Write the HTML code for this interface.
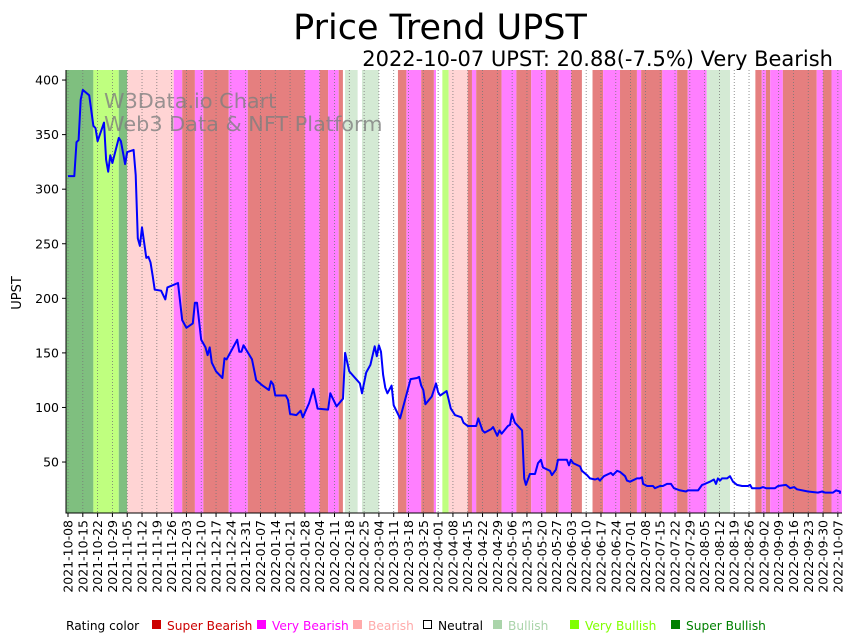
<!DOCTYPE html>
<html><head><meta charset="utf-8"><style>
html,body{margin:0;padding:0;background:#fff;}
svg{display:block;font-family:"DejaVu Sans","Liberation Sans",sans-serif;}
</style></head><body>
<svg id="chart" width="857" height="641" viewBox="0 0 857 641">
<text x="440" y="39" font-size="35" text-anchor="middle" fill="#000">Price Trend UPST</text>
<text x="833" y="66" font-size="21" text-anchor="end" fill="#000">2022-10-07 UPST: 20.88(-7.5%) Very Bearish</text>
<g id="bands"></g>
<g id="grid"></g>
<text x="104" y="108" font-size="20.8" fill="#808080" fill-opacity="0.8">W3Data.io Chart</text>
<text x="104" y="131" font-size="20.8" fill="#808080" fill-opacity="0.8">Web3 Data &amp; NFT Platform</text>
<path id="priceLine" fill="none" stroke="#0000ff" stroke-width="2" stroke-linejoin="round"/>
<line x1="66" y1="70" x2="66" y2="513.5" stroke="#000" stroke-width="1"/>
<line x1="65.5" y1="513" x2="842" y2="513" stroke="#000" stroke-width="1"/>
<g id="yticks"></g>
<g id="xticks"></g>
<text transform="translate(21,293) rotate(-90)" font-size="13" text-anchor="middle">UPST</text>
<g font-size="12.2">
<text x="66" y="630" fill="#000">Rating color</text>
<g><rect x="152" y="620" width="9" height="9" fill="#cc0000"/><text x="167" y="630" fill="#cc0000">Super Bearish</text></g>
<g><rect x="257" y="620" width="9" height="9" fill="#ff00ff"/><text x="272" y="630" fill="#ff00ff">Very Bearish</text></g>
<g><rect x="353" y="620" width="9" height="9" fill="#ffaaaa"/><text x="368" y="630" fill="#ffaaaa">Bearish</text></g>
<g><rect x="423.5" y="620.5" width="8" height="8" fill="#fff" stroke="#000"/><text x="438" y="630" fill="#000">Neutral</text></g>
<g><rect x="493" y="620" width="9" height="9" fill="#aad4aa"/><text x="508" y="630" fill="#aad4aa">Bullish</text></g>
<g><rect x="570" y="620" width="9" height="9" fill="#80ff00"/><text x="585" y="630" fill="#80ff00">Very Bullish</text></g>
<g><rect x="671" y="620" width="9" height="9" fill="#008000"/><text x="686" y="630" fill="#008000">Super Bullish</text></g>
</g>
</svg>
<script>
// days since 2021-10-08
const priceDays = [0,3,4,5,6,7,10,12,13,14,17,18,19,20,21,24,25,27,28,31,32,33,34,35,37,38,39,40,41,44,46,47,52,54,56,59,60,61,63,65,66,67,68,70,73,74,75,80,81,82,83,87,89,92,95,96,97,98,103,104,105,108,110,111,114,116,118,123,124,127,130,131,133,138,139,141,143,145,146,147,148,149,150,151,153,154,157,162,165,166,167,168,169,172,174,175,176,179,180,181,183,186,187,189,193,194,196,197,200,201,203,204,205,208,209,209.9,211.3,214.7,215.7,216.5,218.4,220.8,222.2,223.6,224.6,227.9,228.8,230.7,231.7,235.9,236.9,237.8,238.8,242.1,243,245.4,246.8,249.2,250.6,251.5,253.4,256.7,257.7,259.6,261,263.4,264.3,265.7,269,270.4,271.4,271.9,273.8,276.6,277.5,279.9,281.3,283.2,285.1,286.5,289.4,292.2,293.1,297.9,299.8,301.2,303.5,305.4,306.4,307.3,308.3,309.2,311.6,313,314.4,316.3,318.7,321.5,322.5,323.4,327.2,328.6,330,334.3,335.7,339.5,341.4,343.3,344.7,349.9,354.6,356.5,357.9,361.7,363.1,365,364.9];
const priceValues = [312,312,343,345,382,391,386,358,356,344,361,327,316,331,324,347,344,323,334,336,313,255,248,265,237,238,233,221,208,207,199,210,214,180,173,177,196,196,162,155,148,155,141,133,127,145,144,162,151,151,157,144,125,120,116,124,121,111,111,107,94,93,97,91,104,117,99,98,113,101,108,150,133,122,113,132,139,156,147,157,151,130,118,113,120,102,90,126,127,128,120,116,103,110,122,114,111,115,107,99,93,91,86,83,83,90,79,77,80,82,74,79,76,83,84,94,86,79,35,29,39,39,49,52,45,42,38,43,52,52,47,52,49,46,42,38,35,34,35,33,37,40,38,42,41,37,33,32,35,35,36,30,28,28,26,28,28,30,30,26,24,23,24,24,29,30,32,34,30,35,33,35,35,37,32,29,28,28,29,26,26,27,26,26,28,29,26,27,25,23,22,23,22,22,24,23,20.9];
const bandStart = [-1,12,24,28,50,54,60,64,76,85,112,119,123,128,130,131,137,139,147,156,160,167,173,174,177,180,189,191,193,205,212,219,226,232,238,243,248,253,261,269,271,281,288,293,302,313,325,328,330,332,338,354,357,361];
const bandEnd = [12,24,28,50,54,60,64,76,85,112,119,123,128,130,131,137,139,147,156,160,167,173,174,177,180,189,191,193,205,212,219,226,232,238,243,248,253,261,269,271,281,288,293,302,313,325,328,330,332,338,354,357,361,366];
const bandRating = ["SBu","VBu","SBu","Be","VBe","SBe","VBe","SBe","VBe","SBe","VBe","SBe","VBe","SBe","N","Bu","N","Bu","N","SBe","VBe","SBe","VBe","N","VBu","Be","SBe","VBe","SBe","VBe","SBe","VBe","SBe","VBe","SBe","N","SBe","VBe","SBe","VBe","SBe","VBe","SBe","VBe","Bu","N","SBe","VBe","SBe","VBe","SBe","VBe","SBe","VBe"];
const yTickValues = [50,100,150,200,250,300,350,400];
const xTickLabels = ["2021-10-08","2021-10-15","2021-10-22","2021-10-29","2021-11-05","2021-11-12","2021-11-19","2021-11-26","2021-12-03","2021-12-10","2021-12-17","2021-12-24","2021-12-31","2022-01-07","2022-01-14","2022-01-21","2022-01-28","2022-02-04","2022-02-11","2022-02-18","2022-02-25","2022-03-04","2022-03-11","2022-03-18","2022-03-25","2022-04-01","2022-04-08","2022-04-15","2022-04-22","2022-04-29","2022-05-06","2022-05-13","2022-05-20","2022-05-27","2022-06-03","2022-06-10","2022-06-17","2022-06-24","2022-07-01","2022-07-08","2022-07-15","2022-07-22","2022-07-29","2022-08-05","2022-08-12","2022-08-19","2022-08-26","2022-09-02","2022-09-09","2022-09-16","2022-09-23","2022-09-30","2022-10-07"];

const NS = "http://www.w3.org/2000/svg";
const X0 = 66, X1 = 842, Y0 = 70, Y1 = 513;
function xs(d){ return Math.max(X0, Math.min(X1, 68 + d * 2.115)); }
function ys(v){ return 516.6 - v * 1.0914; }
const colors = {SBe:"rgb(229,127,127)",VBe:"rgb(255,127,255)",Be:"rgb(255,212,212)",N:"#ffffff",Bu:"rgb(212,234,212)",VBu:"rgb(191,255,127)",SBu:"rgb(127,191,127)"};

const bands = document.getElementById('bands');
for (let i = 0; i < bandStart.length; i++) {
  const r = document.createElementNS(NS, 'rect');
  const a = xs(bandStart[i]), b = xs(bandEnd[i]);
  r.setAttribute('x', a); r.setAttribute('y', Y0);
  r.setAttribute('width', Math.max(0, b - a)); r.setAttribute('height', Y1 - Y0);
  r.setAttribute('fill', colors[bandRating[i]]);
  
  
  bands.appendChild(r);
}

const grid = document.getElementById('grid');
const xt = document.getElementById('xticks');
xTickLabels.forEach((lab, k) => {
  const x = xs(k * 7);
  const g = document.createElementNS(NS, 'line');
  g.setAttribute('x1', x); g.setAttribute('x2', x); g.setAttribute('y1', Y0); g.setAttribute('y2', Y1);
  g.setAttribute('stroke', '#777'); g.setAttribute('stroke-width', '0.8'); g.setAttribute('stroke-dasharray', '1,2');
  
  
  grid.appendChild(g);
  const t = document.createElementNS(NS, 'line');
  t.setAttribute('x1', x); t.setAttribute('x2', x); t.setAttribute('y1', Y1); t.setAttribute('y2', Y1 + 4);
  t.setAttribute('stroke', '#000');
  
  
  xt.appendChild(t);
  const tx = document.createElementNS(NS, 'text');
  tx.setAttribute('transform', 'translate(' + (x + 4.5) + ',520) rotate(-90)');
  tx.setAttribute('text-anchor', 'end'); tx.setAttribute('font-size', '12.5');
  tx.textContent = lab;
  
  
  xt.appendChild(tx);
});

const yt = document.getElementById('yticks');
yTickValues.forEach(v => {
  const y = ys(v);
  const t = document.createElementNS(NS, 'line');
  t.setAttribute('x1', X0 - 4); t.setAttribute('x2', X0); t.setAttribute('y1', y); t.setAttribute('y2', y);
  t.setAttribute('stroke', '#000');
  
  
  yt.appendChild(t);
  const tx = document.createElementNS(NS, 'text');
  tx.setAttribute('x', X0 - 7); tx.setAttribute('y', y + 4.5);
  tx.setAttribute('text-anchor', 'end'); tx.setAttribute('font-size', '12.5');
  tx.textContent = v;
  
  
  yt.appendChild(tx);
});

let d = '';
for (let i = 0; i < priceDays.length; i++) {
  d += (i ? 'L' : 'M') + xs(priceDays[i]).toFixed(1) + ',' + ys(priceValues[i]).toFixed(1);
}
document.getElementById('priceLine').setAttribute('d', d);
</script>
</body></html>
